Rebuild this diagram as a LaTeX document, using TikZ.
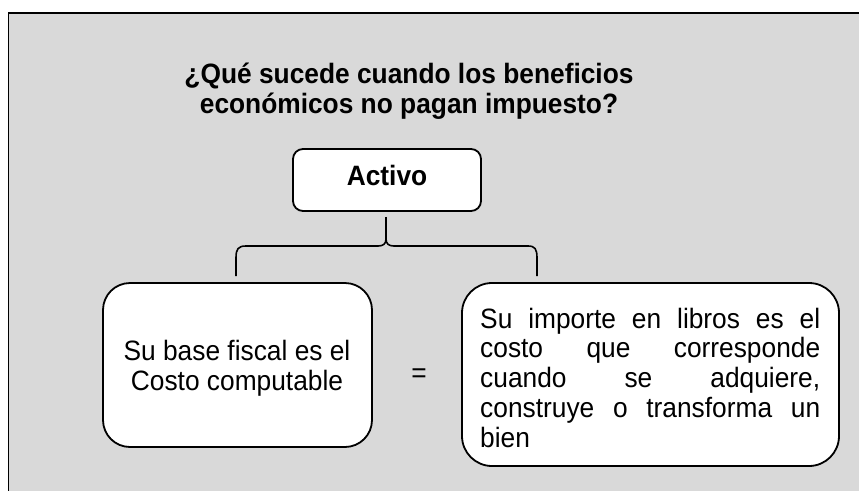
\documentclass[tikz,border=0pt]{standalone}
\usepackage{fontspec}
\setmainfont{Liberation Sans}[FakeStretch=0.94]
\usetikzlibrary{calc}
\definecolor{bg}{HTML}{D9D9D9}
\begin{document}
\begin{tikzpicture}[x=1pt,y=-1pt,
  frame/.style={draw=black,line width=1.8pt,fill=bg},
  roundbox/.style={draw=black,line width=1.8pt,fill=white,rounded corners=#1,inner sep=0pt},
  bracepath/.style={draw=black,line width=1.6pt},
  txt/.style={font=\fontsize{28}{30}\selectfont,inner sep=0pt},
  ttl/.style={font=\fontsize{28}{30}\selectfont\bfseries,inner sep=0pt}]
\useasboundingbox (0,0) rectangle (859,490);
\clip (0,0) rectangle (859,490);
\fill[white] (0,0) rectangle (859,490);
\draw[frame] (8.5,12.7) rectangle (880,510);
% title
\node[ttl,anchor=base,align=center] (title) at (409,113) {¿Qué sucede cuando los beneficios\\económicos no pagan impuesto?};
% boxes
\node[roundbox=10pt,minimum width=188pt,minimum height=62pt] (activo) at (387,180) {};
\node[ttl,anchor=base] (activot) at (387,185) {Activo};
\node[roundbox=27pt,minimum width=269pt,minimum height=164pt] (left) at (237.5,365) {};
\node[roundbox=30pt,minimum width=377pt,minimum height=183pt] (right) at (650.5,374.5) {};
\node[txt,anchor=base,align=center] (leftt) at (237,390) {Su base fiscal es el\\Costo computable};
\node[txt,anchor=base west,align=left,font=\fontsize{28}{29.75}\selectfont] (rightt) at (480,447)
 {\makebox[340pt][s]{Su importe en libros es el}\\
  \makebox[340pt][s]{costo que corresponde}\\
  \makebox[340pt][s]{cuando se adquiere,}\\
  \makebox[340pt][s]{construye o transforma un}\\
  bien};
\node[txt,anchor=base] (eq) at (419,382) {=};
% brace
\coordinate (tip) at (386,239);
\coordinate (bl) at (236,276);
\coordinate (br) at (537,276);
\draw[bracepath] ($(activo.south)+(-1,5)$) -- (tip);
\draw[bracepath] (bl) -- (236,258) .. controls (236,249) and (238,246) .. (246,246) -- (378,246) .. controls (383,246) and (386,244) .. (tip);
\draw[bracepath] (tip) .. controls (386,244) and (389,246) .. (394,246) -- (528,246) .. controls (535,246) and (537,249) .. (537,258) -- (br);
\end{tikzpicture}
\end{document}
